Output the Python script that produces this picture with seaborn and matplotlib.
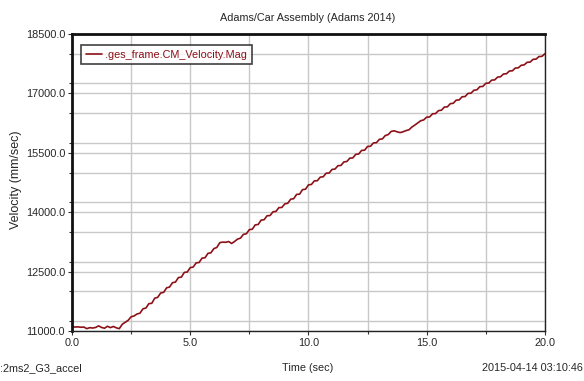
import numpy as np
import pandas as pd
import matplotlib
matplotlib.use("Agg")
import matplotlib.pyplot as plt
import matplotlib.ticker as mticker
import seaborn as sns

# ==================================================
# Data
# ==================================================
velocity = [
    11110, 11100, 11105, 11095, 11100, 11060, 11085, 11075,
    11090, 11130, 11090, 11070, 11120, 11085, 11115, 11080,
    11060, 11170, 11220, 11270, 11360, 11380, 11430, 11450,
    11560, 11580, 11690, 11700, 11830, 11850, 11960, 11975,
    12090, 12110, 12220, 12235, 12350, 12360, 12480, 12490,
    12600, 12615, 12720, 12730, 12840, 12850, 12960, 12975,
    13080, 13110, 13230, 13245, 13240, 13260, 13210, 13260,
    13320, 13345, 13440, 13455, 13560, 13570, 13680, 13690,
    13800, 13810, 13910, 13915, 14010, 14020, 14115, 14120,
    14210, 14225, 14330, 14340, 14450, 14455, 14570, 14580,
    14690, 14700, 14790, 14795, 14885, 14895, 14985, 14990,
    15080, 15090, 15175, 15180, 15270, 15280, 15365, 15370,
    15460, 15470, 15560, 15565, 15660, 15665, 15750, 15755,
    15840, 15850, 15935, 15960, 16040, 16055, 16030, 16010,
    16030, 16060, 16080, 16150, 16200, 16255, 16310, 16330,
    16400, 16405, 16485, 16490, 16565, 16575, 16655, 16660,
    16740, 16750, 16830, 16835, 16915, 16920, 17000, 17005,
    17080, 17090, 17170, 17175, 17255, 17260, 17335, 17340,
    17410, 17420, 17490, 17495, 17565, 17570, 17640, 17645,
    17710, 17720, 17785, 17790, 17860, 17865, 17930, 17935,
    18000,
]
time = np.linspace(0.0, 20.0, len(velocity))

y_ticks = [11000, 12500, 14000, 15500, 17000, 18500]
x_ticks = [0, 5, 10, 15, 20]

title = "Adams/Car Assembly (Adams 2014)"
series_name = ".ges_frame.CM_Velocity.Mag"
run_name = ":2ms2_G3_accel"
stamp = "2015-04-14 03:10:46"

df = pd.DataFrame({"time": time, "velocity": velocity})

# ==================================================
# Settings
# ==================================================
sns.set_theme(style="white")
plt.rcParams["font.family"] = ["Liberation Sans", "DejaVu Sans"]

line_color = "#8c1018"
small = 7.8

fig = plt.figure(figsize=(5.84, 3.81), dpi=100)
ax = fig.add_axes([0.1233, 0.1312, 0.8097, 0.7796])

sns.lineplot(data=df, x="time", y="velocity", ax=ax, color=line_color,
             linewidth=1.2, label=series_name)

ax.set_xlim(0, 20)
ax.set_ylim(11000, 18500)
ax.set_xticks(x_ticks)
ax.set_yticks(y_ticks)
ax.xaxis.set_minor_locator(mticker.MultipleLocator(2.5))
ax.yaxis.set_minor_locator(mticker.MultipleLocator(750))
ax.xaxis.set_major_formatter(mticker.FormatStrFormatter("%.1f"))
ax.yaxis.set_major_formatter(mticker.FormatStrFormatter("%.1f"))
ax.grid(True, which="both", color="#c8c8c8", linewidth=1.0)
ax.set_axisbelow(True)

ax.tick_params(which="both", direction="out", length=3, width=0.8,
               color="#333333", labelsize=small, pad=2,
               bottom=True, left=True)
ax.tick_params(which="minor", length=2)

for side in ["top", "left"]:
    ax.spines[side].set_linewidth(2.0)
    ax.spines[side].set_color("#111111")
for side in ["right", "bottom"]:
    ax.spines[side].set_linewidth(1.0)
    ax.spines[side].set_color("#222222")

ax.set_xlabel("")
ax.set_ylabel("Velocity (mm/sec)", fontsize=9)
ax.yaxis.set_label_coords(-0.106, 0.51)

leg = ax.legend(loc="upper left", bbox_to_anchor=(0.012, 0.975), fontsize=small,
                frameon=True, fancybox=False, handlelength=1.5,
                handletextpad=0.3, borderpad=0.45, borderaxespad=0.3)
leg.get_frame().set_edgecolor("#111111")
leg.get_frame().set_linewidth(1.2)
for t in leg.get_texts():
    t.set_color(line_color)

fig.text(0.527, 0.953, title, ha="center", va="center", fontsize=small)
fig.text(0.527, 0.034, "Time (sec)", ha="center", va="center", fontsize=small)
fig.text(0.0, 0.034, run_name, ha="left", va="center", fontsize=small)
fig.text(0.998, 0.034, stamp, ha="right", va="center", fontsize=small)

fig.savefig("out.png", dpi=100)
